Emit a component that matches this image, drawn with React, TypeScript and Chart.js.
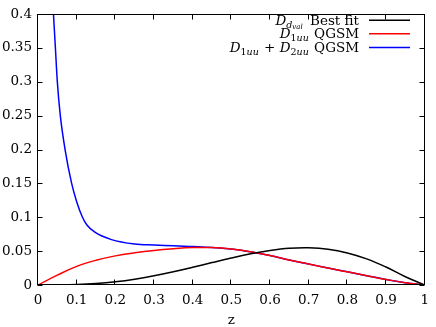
import React, { useEffect, useRef } from "react";
import { Chart, registerables } from "chart.js";

Chart.register(...registerables);

// ---- data ----
const blackZ = [0, 0.05, 0.1, 0.15, 0.2, 0.25, 0.3, 0.35, 0.4, 0.45, 0.5, 0.55, 0.6, 0.65, 0.7, 0.75, 0.8, 0.85, 0.9, 0.95, 1.0];
const blackV = [0, 0.0001, 0.0007, 0.0022, 0.0048, 0.0086, 0.0136, 0.0195, 0.0261, 0.0331, 0.0399, 0.0461, 0.051, 0.0542, 0.0549, 0.0529, 0.0474, 0.0386, 0.0265, 0.0122, 0];

const redZ = [0, 0.05, 0.1, 0.15, 0.2, 0.25, 0.3, 0.35, 0.4, 0.45, 0.5, 0.55, 0.6, 0.65, 0.7, 0.75, 0.8, 0.85, 0.9, 0.95, 1.0];
const redV = [0, 0.0145, 0.0275, 0.0365, 0.043, 0.0475, 0.051, 0.0535, 0.0552, 0.0553, 0.0532, 0.049, 0.0435, 0.037, 0.031, 0.025, 0.0195, 0.0138, 0.0082, 0.0033, 0];

const blueZ = [0.03, 0.04, 0.045, 0.05, 0.0577, 0.07, 0.087, 0.1, 0.115, 0.126, 0.147, 0.19, 0.25, 0.3, 0.35, 0.4, 0.45, 0.5, 0.55, 0.6, 0.65, 0.7, 0.75, 0.8, 0.85, 0.9, 0.95, 1.0];
const blueV = [0.5, 0.4, 0.35, 0.3, 0.25, 0.2, 0.15, 0.123, 0.1, 0.089, 0.078, 0.067, 0.0605, 0.059, 0.058, 0.0567, 0.0553, 0.0532, 0.049, 0.0435, 0.037, 0.031, 0.025, 0.0195, 0.0138, 0.0082, 0.0033, 0];

const xTicks = [0, 0.1, 0.2, 0.3, 0.4, 0.5, 0.6, 0.7, 0.8, 0.9, 1];
const yTicks = [0, 0.05, 0.1, 0.15, 0.2, 0.25, 0.3, 0.35, 0.4];
const xTitle = "z";

const FONT = "DejaVu Serif";
const FS = 13.5;

type Seg = { t: string; it?: boolean; sz?: number; dy?: number; gap?: number };

const legendRows: { segs: Seg[]; color: string }[] = [
  {
    segs: [
      { t: "D", it: true },
      { t: "d", it: true, sz: 9.5, dy: 3 },
      { t: "val", it: true, sz: 7, dy: 4.5, gap: 3 },
      { t: " Best fit" },
    ],
    color: "#000000",
  },
  {
    segs: [
      { t: "D", it: true },
      { t: "1", sz: 9.5, dy: 3 },
      { t: "uu", it: true, sz: 9.5, dy: 3, gap: 1 },
      { t: " QGSM" },
    ],
    color: "#ff0000",
  },
  {
    segs: [
      { t: "D", it: true },
      { t: "1", sz: 9.5, dy: 3 },
      { t: "uu", it: true, sz: 9.5, dy: 3, gap: 1 },
      { t: " + " },
      { t: "D", it: true },
      { t: "2", sz: 9.5, dy: 3 },
      { t: "uu", it: true, sz: 9.5, dy: 3, gap: 1 },
      { t: " QGSM" },
    ],
    color: "#0000ff",
  },
];

const framePlugin = {
  id: "frame",
  afterDraw(chart: any) {
    const { ctx, chartArea } = chart;
    const xs = chart.scales.x;
    const ys = chart.scales.y;
    const L = Math.round(chartArea.left) - 0.5;
    const R = Math.round(chartArea.right) - 0.5;
    const T = Math.round(chartArea.top) + 0.5;
    const B = Math.round(chartArea.bottom) - 0.5;
    ctx.save();
    ctx.strokeStyle = "#000";
    ctx.lineWidth = 1;
    ctx.strokeRect(L, T, R - L, B - T);
    const tl = 5;
    ctx.beginPath();
    for (const v of xTicks) {
      const px = Math.round(xs.getPixelForValue(v)) - 0.5;
      ctx.moveTo(px, B);
      ctx.lineTo(px, B - tl);
      ctx.moveTo(px, T);
      ctx.lineTo(px, T + tl);
    }
    for (const v of yTicks) {
      const py = Math.round(ys.getPixelForValue(v)) + 0.5;
      ctx.moveTo(L, py);
      ctx.lineTo(L + tl, py);
      ctx.moveTo(R, py);
      ctx.lineTo(R - tl, py);
    }
    ctx.stroke();

    // x axis title
    ctx.fillStyle = "#000";
    ctx.font = `${FS}px "${FONT}"`;
    ctx.textAlign = "center";
    ctx.textBaseline = "alphabetic";
    ctx.fillText(xTitle, (chartArea.left + chartArea.right) / 2, 323.5);

    // legend
    const textRight = 359;
    const lineX0 = 369;
    const lineX1 = 410;
    const baselines = [24.7, 38.3, 52];
    legendRows.forEach((row, i) => {
      const base = baselines[i];
      const widths = row.segs.map((s) => {
        ctx.font = `${s.it ? "italic " : ""}${s.sz ?? FS}px "${FONT}"`;
        return ctx.measureText(s.t).width + (s.gap ?? 0);
      });
      const total = widths.reduce((a, b) => a + b, 0);
      let x = textRight - total;
      ctx.fillStyle = "#000";
      ctx.textBaseline = "alphabetic";
      ctx.textAlign = "left";
      row.segs.forEach((s, k) => {
        ctx.font = `${s.it ? "italic " : ""}${s.sz ?? FS}px "${FONT}"`;
        ctx.fillText(s.t, x, base + (s.dy ?? 0));
        x += widths[k];
      });
      ctx.strokeStyle = row.color;
      ctx.lineWidth = 1.5;
      ctx.beginPath();
      ctx.moveTo(lineX0, base - 4.5);
      ctx.lineTo(lineX1, base - 4.5);
      ctx.stroke();
    });
    ctx.restore();
  },
};

function pts(z: number[], v: number[]) {
  return z.map((x, i) => ({ x, y: v[i] }));
}

export default function App() {
  const ref = useRef<HTMLCanvasElement | null>(null);
  useEffect(() => {
    document.body.style.margin = "0";
    const canvas = ref.current!;
    const chart = new Chart(canvas, {
      type: "line",
      data: {
        datasets: [
          {
            label: "D_dval Best fit",
            data: pts(blackZ, blackV),
            borderColor: "#000000",
            borderWidth: 1.5,
            pointRadius: 0,
            tension: 0.4,
            fill: false,
          },
          {
            label: "D1uu QGSM",
            data: pts(redZ, redV),
            borderColor: "#ff0000",
            borderWidth: 1.5,
            pointRadius: 0,
            tension: 0.4,
            fill: false,
          },
          {
            label: "D1uu + D2uu QGSM",
            data: pts(blueZ, blueV),
            borderColor: "#0000ff",
            borderWidth: 1.5,
            pointRadius: 0,
            cubicInterpolationMode: "monotone",
            fill: false,
          },
        ],
      },
      options: {
        animation: false,
        responsive: false,
        maintainAspectRatio: false,
        layout: { padding: { left: 0, right: 8, top: 8, bottom: 0 } },
        plugins: { legend: { display: false }, tooltip: { enabled: false } },
        scales: {
          x: {
            type: "linear",
            min: 0,
            max: 1,
            grid: { display: false, drawTicks: false },
            border: { display: false },
            afterBuildTicks: (s: any) => {
              s.ticks = xTicks.map((v) => ({ value: v }));
            },
            afterFit: (s: any) => {
              s.height = 42;
            },
            ticks: {
              padding: 7,
              color: "#000",
              font: { family: FONT, size: FS },
              maxRotation: 0,
              callback: (v: any) => String(v),
            },
          },
          y: {
            type: "linear",
            min: 0,
            max: 0.4,
            grid: { display: false, drawTicks: false },
            border: { display: false },
            afterBuildTicks: (s: any) => {
              s.ticks = yTicks.map((v) => ({ value: v }));
            },
            afterFit: (s: any) => {
              s.width = 38;
            },
            ticks: {
              padding: 6,
              color: "#000",
              font: { family: FONT, size: FS },
              callback: (v: any) => String(v),
            },
          },
        },
      },
      plugins: [framePlugin],
    } as any);
    return () => chart.destroy();
  }, []);
  return (
    <div style={{ width: 436, height: 327 }}>
      <canvas ref={ref} width={436} height={327} style={{ display: "block" }} />
    </div>
  );
}
